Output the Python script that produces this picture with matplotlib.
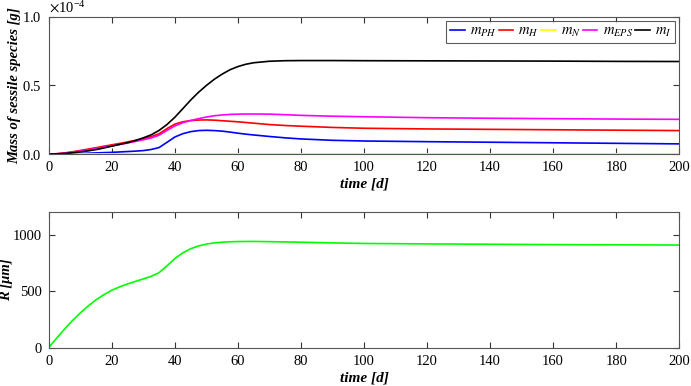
import matplotlib
matplotlib.use("Agg")
import matplotlib.pyplot as plt
import numpy as np
from matplotlib.ticker import ScalarFormatter

plt.rcParams['font.family'] = ['Liberation Serif', 'DejaVu Serif']
plt.rcParams['mathtext.fontset'] = 'stix'

# ---- Data (time in days, masses in units of 1e-4 g, radius in micrometres) ----
t_mass = [0, 2.5, 5, 7.5, 10, 12.5, 15, 17.5, 20, 22.5, 25, 27.5, 30, 32.5, 35, 37.5, 40, 42.5,
          45, 47.5, 50, 52.5, 55, 57.5, 60, 62.5, 65, 70, 75, 80, 90, 100, 120, 140, 160, 180, 200]
m_PH = [0, 0.0002, 0.001, 0.002, 0.004, 0.006, 0.008, 0.010, 0.012, 0.015, 0.018, 0.021, 0.025,
        0.033, 0.047, 0.085, 0.124, 0.148, 0.163, 0.171, 0.173, 0.171, 0.167, 0.160, 0.152, 0.145,
        0.139, 0.128, 0.118, 0.110, 0.100, 0.095, 0.090, 0.086, 0.082, 0.078, 0.074]
m_H = [0, 0.002, 0.008, 0.016, 0.026, 0.036, 0.046, 0.057, 0.067, 0.077, 0.088, 0.100, 0.113,
       0.127, 0.148, 0.185, 0.218, 0.235, 0.244, 0.248, 0.249, 0.247, 0.243, 0.239, 0.235, 0.230,
       0.225, 0.215, 0.208, 0.203, 0.194, 0.188, 0.183, 0.180, 0.177, 0.174, 0.171]
m_N = [0, 0.0002, 0.0004, 0.0005, 0.0006, 0.0006, 0.0007, 0.0007, 0.0008, 0.0008, 0.0008, 0.0008,
       0.0009, 0.0009, 0.0009, 0.001, 0.001, 0.001, 0.001, 0.001, 0.001, 0.001, 0.001, 0.001, 0.001,
       0.001, 0.001, 0.001, 0.001, 0.001, 0.001, 0.001, 0.001, 0.001, 0.001, 0.001, 0.001]
m_EPS = [0, 0.0015, 0.006, 0.013, 0.021, 0.030, 0.040, 0.050, 0.060, 0.070, 0.080, 0.092, 0.104,
         0.117, 0.137, 0.172, 0.205, 0.228, 0.244, 0.258, 0.270, 0.279, 0.285, 0.289, 0.291, 0.292,
         0.292, 0.291, 0.287, 0.282, 0.276, 0.272, 0.265, 0.261, 0.258, 0.255, 0.253]
m_I = [0, 0.001, 0.004, 0.009, 0.015, 0.023, 0.032, 0.044, 0.057, 0.070, 0.083, 0.098, 0.118,
       0.140, 0.172, 0.215, 0.268, 0.330, 0.393, 0.450, 0.500, 0.545, 0.583, 0.615, 0.638, 0.655,
       0.666, 0.677, 0.681, 0.682, 0.682, 0.681, 0.680, 0.679, 0.678, 0.676, 0.675]
mass_scale = 1e-4

t_R = [0, 1, 2.5, 5, 7.5, 10, 12.5, 15, 17.5, 20, 22.5, 25, 27.5, 30, 32.5, 35, 37.5, 40, 42.5,
       45, 47.5, 50, 52.5, 55, 57.5, 60, 65, 70, 80, 90, 100, 120, 140, 160, 180, 200]
R = [0, 35, 85, 165, 240, 308, 370, 425, 470, 510, 540, 565, 588, 610, 633, 665, 725, 790, 840,
     877, 902, 918, 929, 935, 939, 941, 942, 940, 935, 929, 924, 920, 917, 914, 912, 910]

series = [
    (m_PH, 'blue', r'$m_{PH}$'),
    (m_H, 'red', r'$m_{H}$'),
    (m_N, '#ffff00', r'$m_{N}$'),
    (m_EPS, 'magenta', r'$m_{EPS}$'),
    (m_I, 'black', r'$m_{I}$'),
]

fig = plt.figure(figsize=(6.91, 3.86), dpi=100)
ax1 = fig.add_axes([0.0705, 0.601, 0.9125, 0.355])
ax2 = fig.add_axes([0.0705, 0.099, 0.9125, 0.351])

spine_col = '#555555'
for ax in (ax1, ax2):
    for s in ax.spines.values():
        s.set_color(spine_col)
        s.set_linewidth(0.8)
    ax.tick_params(direction='in', top=True, right=True, labelcolor='black', color='#333333',
                   labelsize=10.5, length=4, width=0.8, pad=5)
    ax.set_xlim(0, 200)
    ax.set_xticks(np.arange(0, 201, 20))

for y, c, lab in series:
    ax1.plot(t_mass, np.array(y) * mass_scale, color=c, lw=1.2, label=lab)
ax1.set_ylim(0, 1e-4)
ax1.set_yticks([0, 0.5e-4, 1e-4])
fmt = ScalarFormatter(useMathText=True)
fmt.set_powerlimits((-3, 3))
ax1.yaxis.set_major_formatter(fmt)
ax1.yaxis.get_offset_text().set_fontsize(10.5)
ax1.set_xlabel('time [d]', fontsize=11, fontweight='bold', style='italic', labelpad=2.5)
ax1.set_ylabel('Mass of sessile species [g]', fontsize=10.5, fontweight='bold', style='italic')
ax1.yaxis.set_label_coords(-0.043, 0.5)
leg = ax1.legend(ncol=5, loc='upper right', fontsize=10.5, frameon=True, fancybox=False,
                 handlelength=1.0, handletextpad=0.35, columnspacing=0.15, borderpad=0.25,
                 borderaxespad=0.3)
leg.get_frame().set_edgecolor('#333333')
leg.get_frame().set_linewidth(0.8)

ax2.plot(t_R, R, color='#00ff00', lw=1.2)
ax2.set_ylim(0, 1200)
ax2.set_yticks([0, 500, 1000])
ax2.set_xlabel('time [d]', fontsize=11, fontweight='bold', style='italic', labelpad=2.5)
ax2.set_ylabel('R [μm]', fontsize=10.5, fontweight='bold', style='italic')
ax2.yaxis.set_label_coords(-0.056, 0.5)

fig.savefig('out.png', dpi=100)
